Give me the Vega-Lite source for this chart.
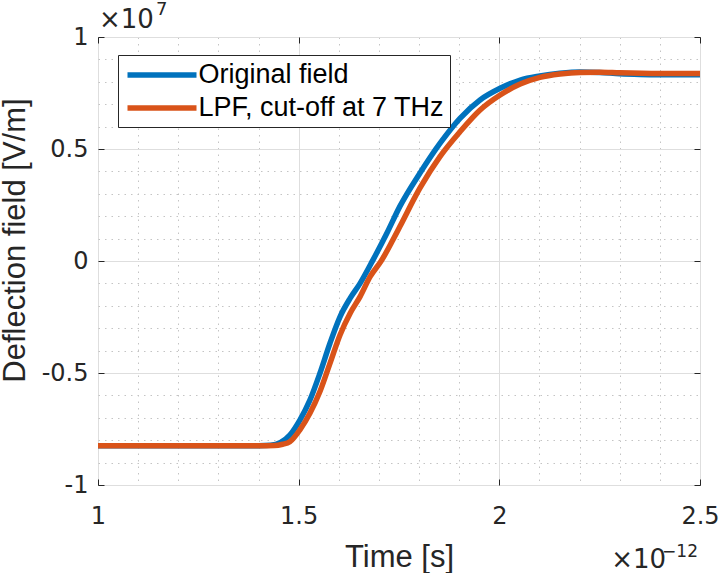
{
  "$schema": "https://vega.github.io/schema/vega-lite/v6.json",
  "width": 602,
  "height": 448,
  "autosize": {"type": "none"},
  "padding": {"left": 98, "top": 37, "right": 20, "bottom": 88},
  "background": "white",
  "config": {"view": {"stroke": "#262626", "strokeWidth": 1}, "font": "Liberation Sans"},
  "datasets": {
    "curves": [
      {"series": "Original field", "time": 1.0, "field": -0.825},
      {"series": "Original field", "time": 1.1, "field": -0.825},
      {"series": "Original field", "time": 1.2, "field": -0.825},
      {"series": "Original field", "time": 1.3, "field": -0.825},
      {"series": "Original field", "time": 1.4, "field": -0.825},
      {"series": "Original field", "time": 1.43, "field": -0.823},
      {"series": "Original field", "time": 1.455, "field": -0.81},
      {"series": "Original field", "time": 1.478, "field": -0.777},
      {"series": "Original field", "time": 1.503, "field": -0.71},
      {"series": "Original field", "time": 1.528, "field": -0.621},
      {"series": "Original field", "time": 1.553, "field": -0.501},
      {"series": "Original field", "time": 1.578, "field": -0.367},
      {"series": "Original field", "time": 1.603, "field": -0.249},
      {"series": "Original field", "time": 1.628, "field": -0.167},
      {"series": "Original field", "time": 1.653, "field": -0.1},
      {"series": "Original field", "time": 1.685, "field": 0.004},
      {"series": "Original field", "time": 1.72, "field": 0.125},
      {"series": "Original field", "time": 1.7525, "field": 0.245},
      {"series": "Original field", "time": 1.802, "field": 0.392},
      {"series": "Original field", "time": 1.852, "field": 0.525},
      {"series": "Original field", "time": 1.902, "field": 0.637},
      {"series": "Original field", "time": 1.952, "field": 0.719},
      {"series": "Original field", "time": 2.002, "field": 0.771},
      {"series": "Original field", "time": 2.052, "field": 0.808},
      {"series": "Original field", "time": 2.101, "field": 0.826},
      {"series": "Original field", "time": 2.151, "field": 0.838},
      {"series": "Original field", "time": 2.201, "field": 0.844},
      {"series": "Original field", "time": 2.25, "field": 0.842},
      {"series": "Original field", "time": 2.3, "field": 0.836},
      {"series": "Original field", "time": 2.35, "field": 0.833},
      {"series": "Original field", "time": 2.4, "field": 0.832},
      {"series": "Original field", "time": 2.5, "field": 0.832},
      {"series": "LPF, cut-off at 7 THz", "time": 1.0, "field": -0.825},
      {"series": "LPF, cut-off at 7 THz", "time": 1.1, "field": -0.825},
      {"series": "LPF, cut-off at 7 THz", "time": 1.2, "field": -0.825},
      {"series": "LPF, cut-off at 7 THz", "time": 1.3, "field": -0.825},
      {"series": "LPF, cut-off at 7 THz", "time": 1.4, "field": -0.825},
      {"series": "LPF, cut-off at 7 THz", "time": 1.44, "field": -0.824},
      {"series": "LPF, cut-off at 7 THz", "time": 1.46, "field": -0.818},
      {"series": "LPF, cut-off at 7 THz", "time": 1.478, "field": -0.807},
      {"series": "LPF, cut-off at 7 THz", "time": 1.503, "field": -0.754},
      {"series": "LPF, cut-off at 7 THz", "time": 1.528, "field": -0.68},
      {"series": "LPF, cut-off at 7 THz", "time": 1.553, "field": -0.583},
      {"series": "LPF, cut-off at 7 THz", "time": 1.578, "field": -0.457},
      {"series": "LPF, cut-off at 7 THz", "time": 1.603, "field": -0.33},
      {"series": "LPF, cut-off at 7 THz", "time": 1.628, "field": -0.234},
      {"series": "LPF, cut-off at 7 THz", "time": 1.653, "field": -0.159},
      {"series": "LPF, cut-off at 7 THz", "time": 1.678, "field": -0.07},
      {"series": "LPF, cut-off at 7 THz", "time": 1.707, "field": 0.004},
      {"series": "LPF, cut-off at 7 THz", "time": 1.735, "field": 0.095},
      {"series": "LPF, cut-off at 7 THz", "time": 1.7525, "field": 0.155},
      {"series": "LPF, cut-off at 7 THz", "time": 1.802, "field": 0.325},
      {"series": "LPF, cut-off at 7 THz", "time": 1.852, "field": 0.466},
      {"series": "LPF, cut-off at 7 THz", "time": 1.902, "field": 0.577},
      {"series": "LPF, cut-off at 7 THz", "time": 1.952, "field": 0.674},
      {"series": "LPF, cut-off at 7 THz", "time": 2.002, "field": 0.741},
      {"series": "LPF, cut-off at 7 THz", "time": 2.052, "field": 0.79},
      {"series": "LPF, cut-off at 7 THz", "time": 2.101, "field": 0.82},
      {"series": "LPF, cut-off at 7 THz", "time": 2.151, "field": 0.835},
      {"series": "LPF, cut-off at 7 THz", "time": 2.201, "field": 0.842},
      {"series": "LPF, cut-off at 7 THz", "time": 2.25, "field": 0.843},
      {"series": "LPF, cut-off at 7 THz", "time": 2.3, "field": 0.84},
      {"series": "LPF, cut-off at 7 THz", "time": 2.4, "field": 0.837},
      {"series": "LPF, cut-off at 7 THz", "time": 2.5, "field": 0.837}
    ],
    "exponents": [
      {"axis": "y", "base": "×10", "power": "7"},
      {"axis": "x", "base": "×10", "power": "−12"}
    ]
  },
  "layer": [
    {
      "data": {"name": "curves"},
      "mark": {"type": "line", "strokeWidth": 5.5, "interpolate": "monotone"},
      "encoding": {
        "x": {
          "field": "time", "type": "quantitative",
          "scale": {"domain": [1, 2.5], "nice": false, "zero": false},
          "axis": {
            "orient": "bottom",
            "values": [1, 1.1, 1.2, 1.3, 1.4, 1.5, 1.6, 1.7, 1.8, 1.9, 2, 2.1, 2.2, 2.3, 2.4, 2.5],
            "title": "Time [s]",
            "titleFont": "Liberation Sans", "titleFontSize": 31, "titleFontWeight": "normal", "titleColor": "#262626",
            "titleBaseline": "alphabetic", "titleY": 81, "titleX": 301, "titleAlign": "center",
            "labelFont": "DejaVu Sans", "labelFontSize": 24, "labelColor": "#262626",
            "labelExpr": "abs(datum.value*2 - round(datum.value*2)) < 0.001 ? toString(datum.value) : ''",
            "labelBaseline": "alphabetic", "labelPadding": 44, "labelFlush": false, "labelOverlap": false, "labelBound": false,
            "domain": false,
            "ticks": true, "tickSize": -6, "tickWidth": 1,
            "tickColor": {"condition": {"test": "abs(datum.value*2 - round(datum.value*2)) < 0.001", "value": "#262626"}, "value": "transparent"},
            "grid": true, "gridWidth": 1,
            "gridColor": {"condition": {"test": "abs(datum.value*2 - round(datum.value*2)) < 0.001", "value": "#dedede"}, "value": "#c4c4c4"},
            "gridDash": {"condition": {"test": "abs(datum.value*2 - round(datum.value*2)) < 0.001", "value": []}, "value": [1.5, 5]}
          }
        },
        "y": {
          "field": "field", "type": "quantitative",
          "scale": {"domain": [-1, 1], "nice": false, "zero": false},
          "axis": {
            "orient": "left",
            "values": [-1, -0.9, -0.8, -0.7, -0.6, -0.5, -0.4, -0.3, -0.2, -0.1, 0, 0.1, 0.2, 0.3, 0.4, 0.5, 0.6, 0.7, 0.8, 0.9, 1],
            "title": "Deflection field [V/m]",
            "titleFont": "Liberation Sans", "titleFontSize": 31, "titleFontWeight": "normal", "titleColor": "#262626",
            "titleAngle": 270, "titleBaseline": "alphabetic", "titleAlign": "center", "titleX": -74, "titleY": 203,
            "labelFont": "DejaVu Sans", "labelFontSize": 24, "labelColor": "#262626",
            "labelExpr": "abs(datum.value*2 - round(datum.value*2)) < 0.001 ? toString(datum.value) : ''",
            "labelPadding": 16, "labelFlush": false, "labelOverlap": false, "labelBound": false,
            "domain": false,
            "ticks": true, "tickSize": -6, "tickWidth": 1,
            "tickColor": {"condition": {"test": "abs(datum.value*2 - round(datum.value*2)) < 0.001", "value": "#262626"}, "value": "transparent"},
            "grid": true, "gridWidth": 1,
            "gridColor": {"condition": {"test": "abs(datum.value*2 - round(datum.value*2)) < 0.001", "value": "#dedede"}, "value": "#c4c4c4"},
            "gridDash": {"condition": {"test": "abs(datum.value*2 - round(datum.value*2)) < 0.001", "value": []}, "value": [1.5, 5]}
          }
        },
        "color": {
          "field": "series", "type": "nominal",
          "scale": {"domain": ["Original field", "LPF, cut-off at 7 THz"], "range": ["#0072BD", "#D95319"]},
          "legend": {
            "orient": "none", "legendX": 20, "legendY": 18,
            "title": null,
            "strokeColor": "#262626", "fillColor": "white",
            "padding": 5.5,
            "symbolType": "M-3,0H3",
            "symbolSize": 529,
            "symbolStrokeWidth": 5.5,
            "symbolOffset": 24,
            "labelOffset": 22,
            "labelFont": "Liberation Sans", "labelFontSize": 27, "labelColor": "#000000",
            "labelLimit": 500,
            "rowPadding": 5
          }
        }
      }
    },
    {
      "data": {"name": "curves"},
      "mark": {"type": "line", "opacity": 0},
      "encoding": {
        "x": {
          "field": "time", "type": "quantitative",
          "axis": {"orient": "top", "values": [1, 1.5, 2, 2.5], "labels": false, "grid": false, "domain": false, "title": null,
                   "tickSize": -6, "tickColor": "#262626", "tickWidth": 1}
        },
        "y": {
          "field": "field", "type": "quantitative",
          "axis": {"orient": "right", "values": [-1, -0.5, 0, 0.5, 1], "labels": false, "grid": false, "domain": false, "title": null,
                   "tickSize": -6, "tickColor": "#262626", "tickWidth": 1}
        },
        "detail": {"field": "series"}
      }
    },
    {
      "data": {"name": "exponents"},
      "transform": [{"filter": "datum.axis == 'y'"}],
      "layer": [
        {
          "mark": {"type": "text", "font": "DejaVu Sans", "fontSize": 26, "color": "#262626", "align": "left", "baseline": "alphabetic", "dx": 1, "dy": -9},
          "encoding": {
            "text": {"field": "base"},
            "x": {"datum": 1, "type": "quantitative", "axis": null},
            "y": {"datum": 1, "type": "quantitative", "axis": null}
          }
        },
        {
          "mark": {"type": "text", "font": "DejaVu Sans", "fontSize": 18, "color": "#262626", "align": "left", "baseline": "alphabetic", "dx": 58, "dy": -22},
          "encoding": {
            "text": {"field": "power"},
            "x": {"datum": 1, "type": "quantitative", "axis": null},
            "y": {"datum": 1, "type": "quantitative", "axis": null}
          }
        }
      ]
    },
    {
      "data": {"name": "exponents"},
      "transform": [{"filter": "datum.axis == 'x'"}],
      "layer": [
        {
          "mark": {"type": "text", "font": "DejaVu Sans", "fontSize": 26, "color": "#262626", "align": "right", "baseline": "alphabetic", "dx": -34, "dy": 83},
          "encoding": {
            "text": {"field": "base"},
            "x": {"datum": 2.5, "type": "quantitative", "axis": null},
            "y": {"datum": -1, "type": "quantitative", "axis": null}
          }
        },
        {
          "mark": {"type": "text", "font": "DejaVu Sans", "fontSize": 17, "color": "#262626", "align": "right", "baseline": "alphabetic", "dx": -2, "dy": 72},
          "encoding": {
            "text": {"field": "power"},
            "x": {"datum": 2.5, "type": "quantitative", "axis": null},
            "y": {"datum": -1, "type": "quantitative", "axis": null}
          }
        }
      ]
    }
  ],
  "resolve": {"axis": {"x": "independent", "y": "independent"}}
}
